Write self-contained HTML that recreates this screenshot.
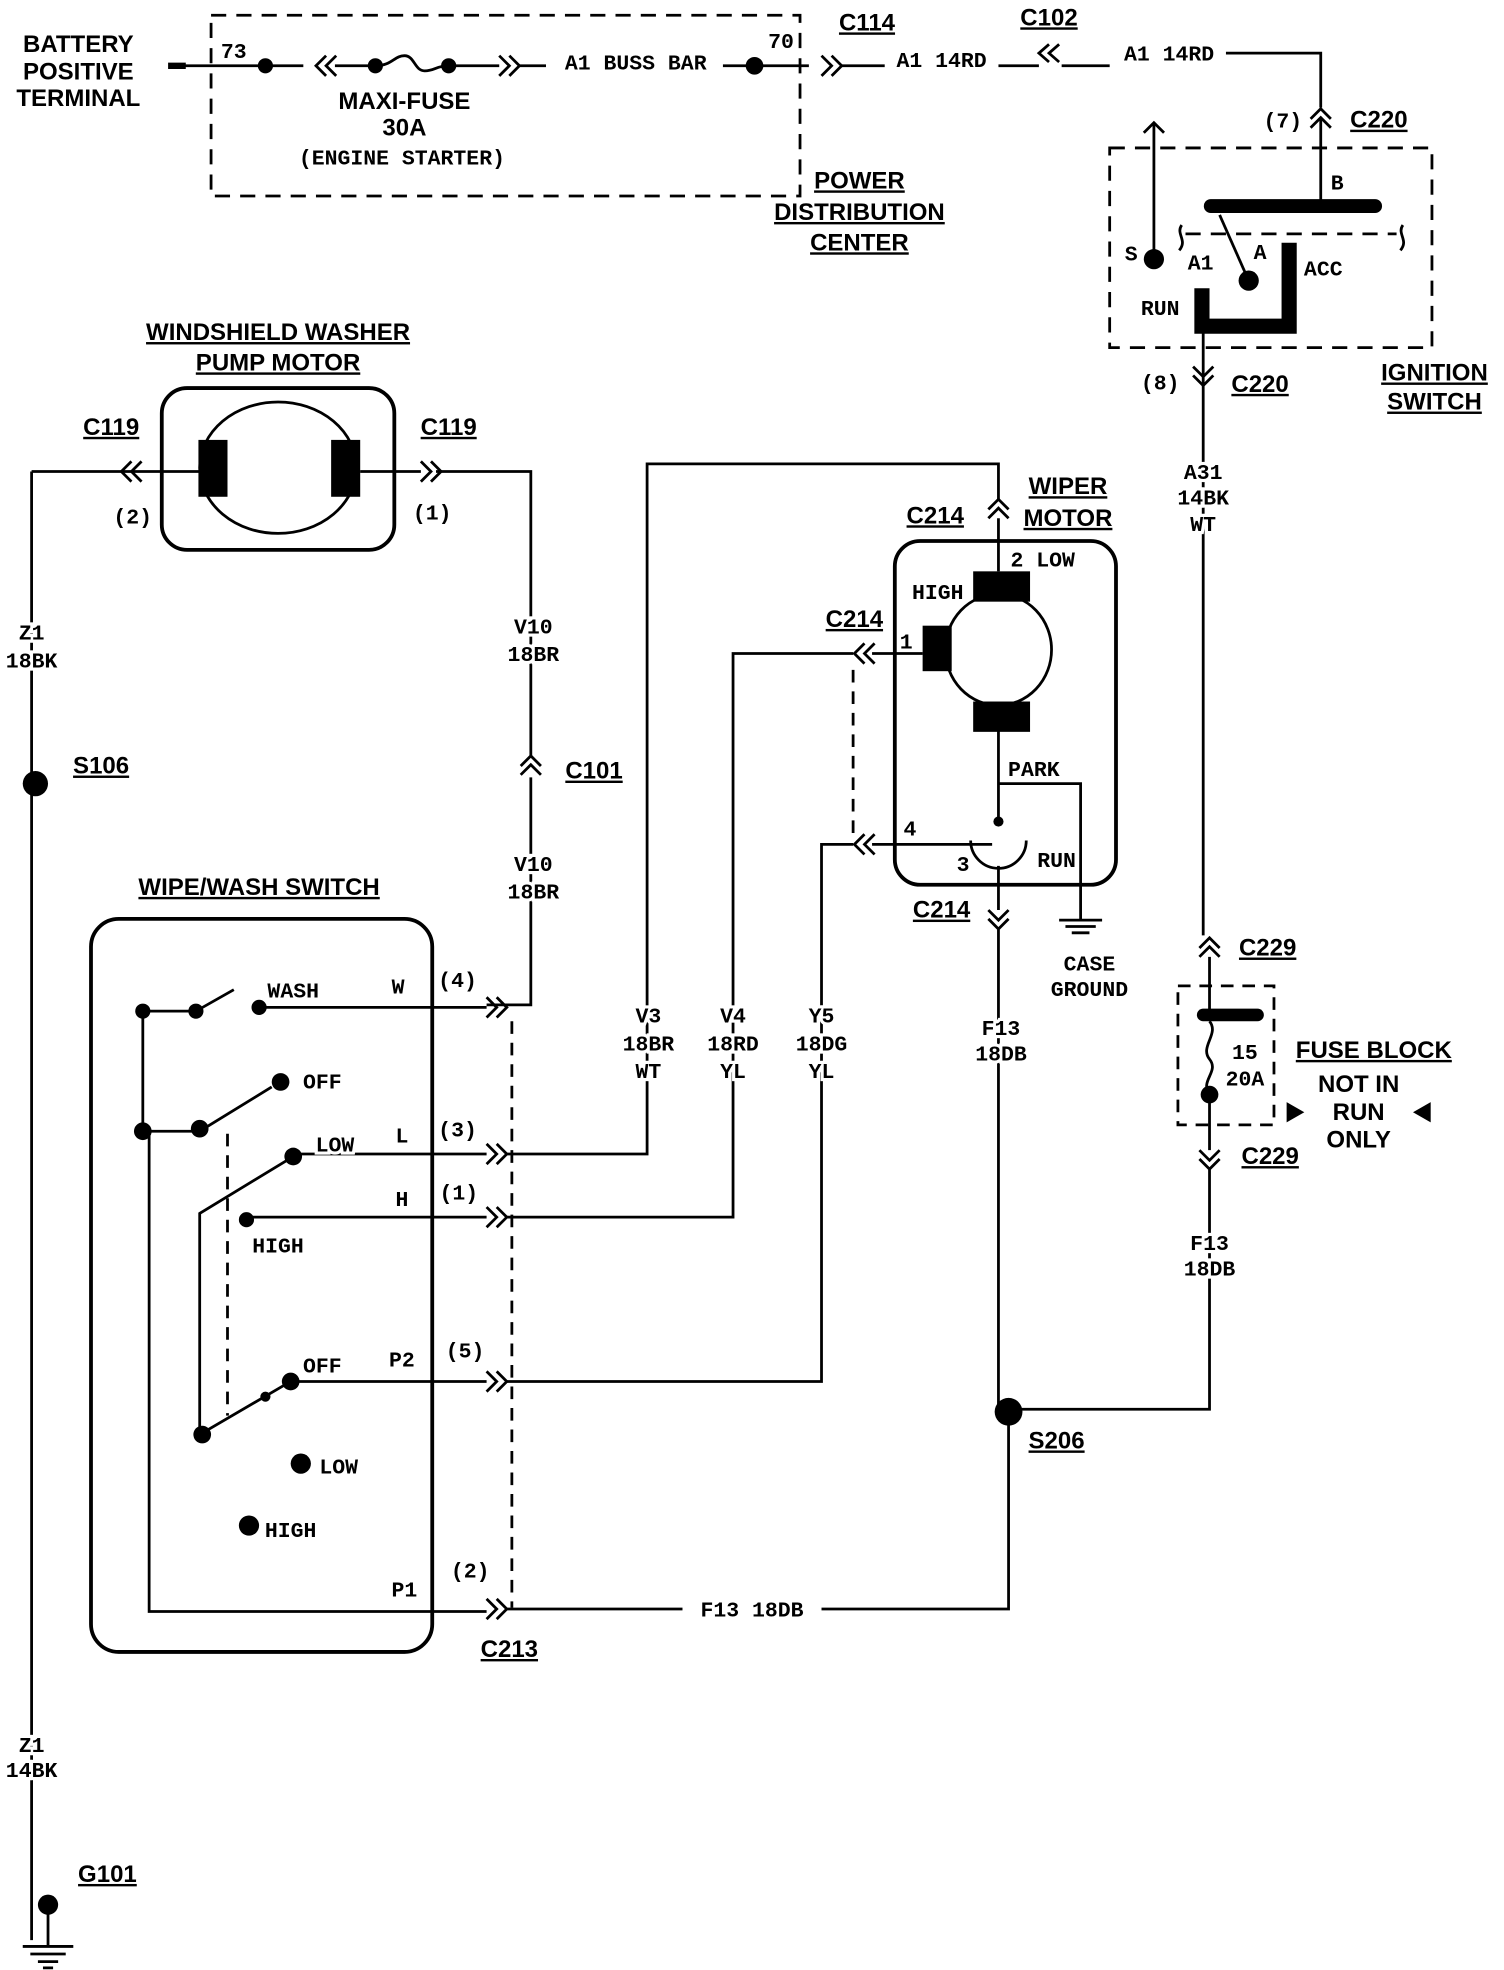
<!DOCTYPE html>
<html><head><style>
html,body{margin:0;padding:0;background:#fff}
svg{display:block}
.m{font-family:"Liberation Mono",monospace;font-weight:bold;font-size:17px;paint-order:stroke;stroke:#fff;stroke-width:5px}
.h{font-family:"Liberation Sans",sans-serif;font-weight:bold;font-size:19px}
.u{text-decoration:underline}
</style></head><body>
<svg width="1504" height="1970" viewBox="0 0 1190 1558.6" xmlns="http://www.w3.org/2000/svg">
<g fill="none" stroke="#000" stroke-width="2.2">
<rect x="167" y="12" width="466" height="143" stroke-dasharray="12,8"/>
<path d="M135 52H240M265 52H297M355 52H395M410 52H432M572 52H640M665 52H700M790 52H822M840 52H878M970 42H1045V85"/>
<path d="M133 52H147" stroke-width="5"/>
<path d="M297 52C310 52 312 44 320 44C328 44 328 56 336 56C344 56 345 52 355 52"/>
<path d="M258 44L250 52L258 60M266 44L258 52L266 60"/>
<path d="M395 44L403 52L395 60M403 44L411 52L403 60"/>
<path d="M650 44L658 52L650 60M658 44L666 52L658 60"/>
<path d="M830 35L822 42L830 49M838 35L830 42L838 49"/>
<path d="M1037 94L1045 86L1053 94M1037 101L1045 93L1053 101"/>
<path d="M1045 93V162"/>
<rect x="878" y="117" width="255" height="158" stroke-dasharray="12,8"/>
<path d="M938 185H1105" stroke-dasharray="12,8"/>
<path d="M913 205V97M905 105L913 97L921 105"/>
<path d="M958 163H1088" stroke-width="11" stroke-linecap="round"/>
<path d="M965 170L988 222"/>
<path d="M951 228V258H1020V192" stroke-width="12"/>
<path d="M935 178C930 185 940 190 933 198M1110 178C1105 185 1115 190 1108 198"/>
<path d="M952 262V740"/>
<path d="M944 290L952 298L960 290M944 297L952 305L960 297"/>
<rect x="128" y="307" width="184" height="128" rx="20" stroke-width="3"/>
<ellipse cx="220" cy="370" rx="62" ry="52"/>
<path d="M25 373H160M285 373H333M345 373H420V598M420 615V795H385"/>
<path d="M104 365L96 373L104 381M112 365L104 373L112 381"/>
<path d="M333 365L341 373L333 381M341 365L349 373L341 381"/>
<path d="M412 606L420 598L428 606M412 613L420 605L428 613"/>
<path d="M25 373V1535M38 1507V1540M18 1540H58M24 1546H52M30 1552H46M34 1557H42"/>
<rect x="72" y="727" width="270" height="580" rx="22" stroke-width="3"/>
<path d="M113 895V800H155L185 783M205 797H385M113 895H158L215 860M232 913H385M195 963H385M230 1093H385M118 895V1275H385"/>
<path d="M232 915L158 960V1135L230 1093"/>
<path d="M180 897V1120M405 808V1272" stroke-dasharray="10,7"/>
<path d="M385 789L393 797L385 805M393 789L401 797L393 805"/>
<path d="M385 905L393 913L385 921M393 905L401 913L393 921"/>
<path d="M385 955L393 963L385 971M393 955L401 963L393 971"/>
<path d="M385 1085L393 1093L385 1101M393 1085L401 1093L393 1101"/>
<path d="M385 1265L393 1273L385 1281M393 1265L401 1273L393 1281"/>
<path d="M400 913H512V367H790V395M400 963H580V517H675M690 517H730M400 1093H650V668H675M690 668H785"/>
<path d="M400 1273H540M650 1273H798V1115"/>
<path d="M675 530V665" stroke-dasharray="10,7"/>
<path d="M782 403L790 395L798 403M782 410L790 402L798 410"/>
<path d="M790 410V452"/>
<path d="M684 509L676 517L684 525M692 509L684 517L692 525"/>
<path d="M684 660L676 668L684 676M692 660L684 668L692 676"/>
<rect x="708" y="428" width="175" height="272" rx="20" stroke-width="3"/>
<ellipse cx="790" cy="514" rx="42" ry="44"/>
<path d="M790 578V650M790 620H855V728M838 728H872M843 733H867M848 738H862"/>
<path d="M768 665A22 22 0 1 0 812 665"/>
<path d="M790 685V720M782 720L790 728L798 720M782 727L790 735L798 727M790 735V1115"/>
<path d="M949 750L957 742L965 750M949 757L957 749L965 757M957 757V803"/>
<rect x="932" y="780" width="76" height="110" stroke-dasharray="10,7"/>
<path d="M952 803H995" stroke-width="10" stroke-linecap="round"/>
<path d="M957 808C965 818 949 828 957 838C965 848 949 855 957 866V910"/>
<path d="M949 910L957 918L965 910M949 917L957 925L965 917M957 925V1115H798"/>
</g>
<g fill="#000">
<circle cx="210" cy="52" r="6"/><circle cx="297" cy="52" r="6"/><circle cx="355" cy="52" r="6"/><circle cx="597" cy="52" r="7"/>
<circle cx="913" cy="205" r="8"/><circle cx="988" cy="222" r="8"/>
<rect x="157" y="348" width="23" height="45"/><rect x="262" y="348" width="23" height="45"/>
<circle cx="28" cy="620" r="10"/><circle cx="38" cy="1507" r="8"/>
<circle cx="113" cy="800" r="6"/><circle cx="155" cy="800" r="6"/><circle cx="205" cy="797" r="6"/>
<circle cx="113" cy="895" r="7"/><circle cx="158" cy="893" r="7"/><circle cx="222" cy="856" r="7"/>
<circle cx="232" cy="915" r="7"/><circle cx="195" cy="965" r="6"/><circle cx="230" cy="1093" r="7"/><circle cx="210" cy="1105" r="4"/>
<circle cx="160" cy="1135" r="7"/><circle cx="238" cy="1158" r="8"/><circle cx="197" cy="1207" r="8"/>
<rect x="770" y="452" width="45" height="24"/><rect x="730" y="495" width="23" height="36"/><rect x="770" y="555" width="45" height="24"/>
<circle cx="790" cy="650" r="4"/><circle cx="798" cy="1117" r="11"/><circle cx="957" cy="866" r="7"/>
<path d="M1018 872L1032 880L1018 888Z"/><path d="M1132 872L1118 880L1132 888Z"/>
</g>
<g class="h" text-anchor="middle">
<text x="62" y="41">BATTERY</text><text x="62" y="63">POSITIVE</text><text x="62" y="84">TERMINAL</text>
<text x="320" y="86">MAXI-FUSE</text><text x="320" y="107">30A</text>
<text x="680" y="149" class="u">POWER</text><text x="680" y="174" class="u">DISTRIBUTION</text><text x="680" y="198" class="u">CENTER</text>
<text x="686" y="24" class="u">C114</text><text x="830" y="20" class="u">C102</text><text x="1091" y="101" class="u">C220</text>
<text x="997" y="310" class="u">C220</text>
<text x="1135" y="301" class="u">IGNITION</text><text x="1135" y="324" class="u">SWITCH</text>
<text x="220" y="269" class="u">WINDSHIELD WASHER</text><text x="220" y="293" class="u">PUMP MOTOR</text>
<text x="88" y="344" class="u">C119</text><text x="355" y="344" class="u">C119</text>
<text x="80" y="612" class="u">S106</text><text x="470" y="616" class="u">C101</text>
<text x="205" y="708" class="u">WIPE/WASH SWITCH</text>
<text x="740" y="414" class="u">C214</text><text x="676" y="496" class="u">C214</text><text x="745" y="726" class="u">C214</text>
<text x="845" y="391" class="u">WIPER</text><text x="845" y="416" class="u">MOTOR</text>
<text x="1003" y="756" class="u">C229</text><text x="1005" y="921" class="u">C229</text>
<text x="1087" y="837" class="u">FUSE BLOCK</text><text x="1075" y="864">NOT IN</text><text x="1075" y="886">RUN</text><text x="1075" y="908">ONLY</text>
<text x="836" y="1146" class="u">S206</text><text x="403" y="1311" class="u">C213</text><text x="85" y="1489" class="u">G101</text>
</g>
<g class="m" text-anchor="middle">
<text x="185" y="46">73</text><text x="318" y="130">(ENGINE STARTER)</text>
<text x="503" y="55">A1 BUSS BAR</text><text x="618" y="38">70</text>
<text x="745" y="53">A1 14RD</text><text x="925" y="48">A1 14RD</text>
<text x="1015" y="101">(7)</text><text x="1058" y="150">B</text><text x="895" y="206">S</text>
<text x="950" y="213">A1</text><text x="997" y="205">A</text><text x="1047" y="218">ACC</text><text x="918" y="249">RUN</text>
<text x="918" y="308">(8)</text>
<text x="952" y="379">A31</text><text x="952" y="399">14BK</text><text x="952" y="420">WT</text>
<text x="105" y="414">(2)</text><text x="342" y="411">(1)</text>
<text x="25" y="506">Z1</text><text x="25" y="528">18BK</text>
<text x="422" y="501">V10</text><text x="422" y="523">18BR</text><text x="422" y="689">V10</text><text x="422" y="711">18BR</text>
<text x="232" y="789">WASH</text><text x="315" y="786">W</text><text x="362" y="781">(4)</text>
<text x="255" y="861">OFF</text><text x="265" y="911">LOW</text><text x="318" y="904">L</text><text x="362" y="899">(3)</text>
<text x="220" y="991">HIGH</text><text x="318" y="954">H</text><text x="363" y="949">(1)</text>
<text x="255" y="1086">OFF</text><text x="318" y="1081">P2</text><text x="368" y="1074">(5)</text>
<text x="268" y="1166">LOW</text><text x="230" y="1216">HIGH</text>
<text x="320" y="1263">P1</text><text x="372" y="1248">(2)</text><text x="595" y="1279">F13 18DB</text>
<text x="513" y="809">V3</text><text x="513" y="831">18BR</text><text x="513" y="853">WT</text>
<text x="580" y="809">V4</text><text x="580" y="831">18RD</text><text x="580" y="853">YL</text>
<text x="650" y="809">Y5</text><text x="650" y="831">18DG</text><text x="650" y="853">YL</text>
<text x="825" y="448">2 LOW</text><text x="742" y="474">HIGH</text><text x="717" y="513">1</text>
<text x="818" y="614">PARK</text><text x="720" y="661">4</text><text x="762" y="689">3</text><text x="836" y="686">RUN</text>
<text x="862" y="768">CASE</text><text x="862" y="788">GROUND</text>
<text x="792" y="819">F13</text><text x="792" y="839">18DB</text>
<text x="985" y="838">15</text><text x="985" y="859">20A</text>
<text x="957" y="989">F13</text><text x="957" y="1009">18DB</text>
<text x="25" y="1386">Z1</text><text x="25" y="1406">14BK</text>
</g>
</svg>
</body></html>
